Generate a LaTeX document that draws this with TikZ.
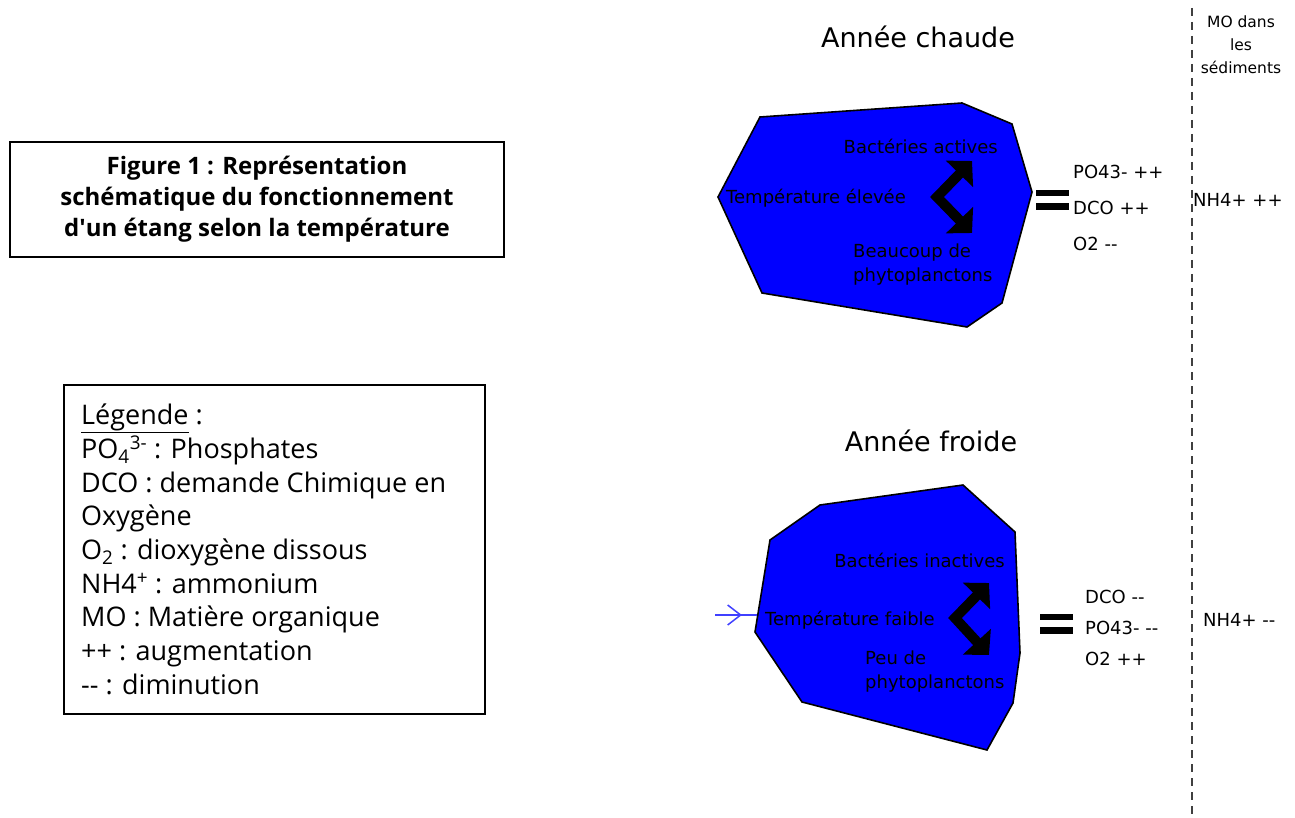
\documentclass[tikz,border=0pt]{standalone}
\usepackage{fontspec}
\setmainfont{DejaVu Sans}
\newfontfamily\legendfont{Open Sans}
\usepackage{xcolor}
\usepackage{tikz}
\usetikzlibrary{positioning, arrows.meta, decorations.markings}

\tikzset{
	etang/.style={draw=black, line width=1.6pt, fill=blue},
	texte/.style={font=\fontsize{18}{24}\selectfont, inner sep=0pt, align=left},
	mesure/.style={font=\fontsize{18}{22}\selectfont, inner sep=0pt, anchor=west},
	annee/.style={font=\fontsize{27}{32}\selectfont, inner sep=0pt},
	zigzag/.style={line width=10pt, {Triangle[length=18pt,width=37pt]}-{Triangle[length=18pt,width=37pt]}},
	cadre/.style={draw, line width=1.5pt, rectangle},
}

\begin{document}
\begin{tikzpicture}[x=1pt, y=-1pt]
		\useasboundingbox (0,0) rectangle (1295,818);

		% Nodes
		\node (figure) [cadre, minimum width=494pt, minimum height=115pt, align=center,
			font=\legendfont\bfseries\fontsize{24}{31}\selectfont] at (257,199.5)
			{Figure 1 : Représentation\\schématique du fonctionnement\\d\textquotesingle un étang selon la température};

		\node (legende_cadre) [cadre, anchor=north west, minimum width=421pt, minimum height=329pt] at (63,384) {};
		\node (legende) [right=18pt of legende_cadre.west, anchor=west, inner sep=0pt, align=left,
			font=\legendfont\fontsize{27}{33.7}\selectfont]
			{\underline{Légende} :\\
			PO\textsubscript{4}\textsuperscript{3-} : Phosphates\\
			DCO : demande Chimique en\\
			Oxygène\\
			O\textsubscript{2} : dioxygène dissous\\
			NH4\textsuperscript{+} : ammonium\\
			MO : Matière organique\\
			++ : augmentation\\
			-{}- : diminution};

		% ponds
		\draw[etang] (718,197) -- (760,117) -- (962,103) -- (1012,124) -- (1032,192)
			-- (1002,303) -- (967,327) -- (762,293) -- cycle;
		\draw[etang] (770,540) -- (820,505) -- (963,485) -- (1015,532) -- (1020,653)
			-- (1013,703) -- (987,750) -- (802,702) -- (755,632) -- cycle;

		\node (chaude) [annee] at (918,37) {Année chaude};
		\node (froide) [annee] at (931,441) {Année froide};

		\node (bact_chaud) [texte, anchor=east] at (998,146) {Bactéries actives};
		\node (temp_chaud) [texte, anchor=west] at (726,198) {Température élevée};
		\node (phyto_chaud) [texte, anchor=west] at (853,265) {Beaucoup de\\phytoplanctons};

		\node (bact_froid) [texte, anchor=east] at (1005,560) {Bactéries inactives};
		\node (temp_froid) [texte, anchor=west] at (765,620) {Température faible};
		\node (phyto_froid) [texte, anchor=west] at (865,672) {Peu de\\phytoplanctons};

		\node (po_chaud) [mesure] at (1073,172) {PO43- ++};
		\node (dco_chaud) [mesure] at (1073,208) {DCO ++};
		\node (o2_chaud) [mesure] at (1073,244) {O2 -{}-};
		\node (nh_chaud) [mesure] at (1193,200) {NH4+ ++};

		\node (dco_froid) [mesure] at (1085,597) {DCO -{}-};
		\node (po_froid) [mesure] at (1085,628) {PO43- -{}-};
		\node (o2_froid) [mesure] at (1085,659) {O2 ++};
		\node (nh_froid) [mesure] at (1203,620) {NH4+ -{}-};

		\node (mo) [align=center, inner sep=0pt, font=\fontsize{15.5}{23}\selectfont] at (1241,45) {MO dans\\les\\sédiments};

		% equal signs
		\fill (1036,190) rectangle (1069,196);
		\fill (1036,203) rectangle (1069,210);
		\fill (1040,614) rectangle (1073,620);
		\fill (1040,627) rectangle (1073,634);

		% separation
		\coordinate (sep_haut) at (1192,8);
		\coordinate (sep_bas) at (1192,818);
		\draw[line width=1.5pt, black!75, dash pattern=on 8pt off 6pt] (sep_haut) -- (sep_bas);

		% Arrows
		\coordinate (pivot_chaud) at (937,197);
		\coordinate (haut_chaud) at (972,161);
		\coordinate (bas_chaud) at (972,233);
		\draw[zigzag] (haut_chaud) -- (pivot_chaud) -- (bas_chaud);

		\coordinate (pivot_froid) at (955,618);
		\coordinate (haut_froid) at (989,583);
		\coordinate (bas_froid) at (989,655);
		\draw[zigzag] (haut_froid) -- (pivot_froid) -- (bas_froid);

		% entry arrow
		\coordinate (entree) at (715,615);
		\coordinate (bord_froid) at (757,615);
		\draw[blue!75, line width=1.5pt, decoration={markings,
				mark=at position 0.64 with {\arrow{Straight Barb[length=13pt,width=20pt]}}},
			postaction=decorate] (entree) -- (bord_froid);

	\end{tikzpicture}
\end{document}
